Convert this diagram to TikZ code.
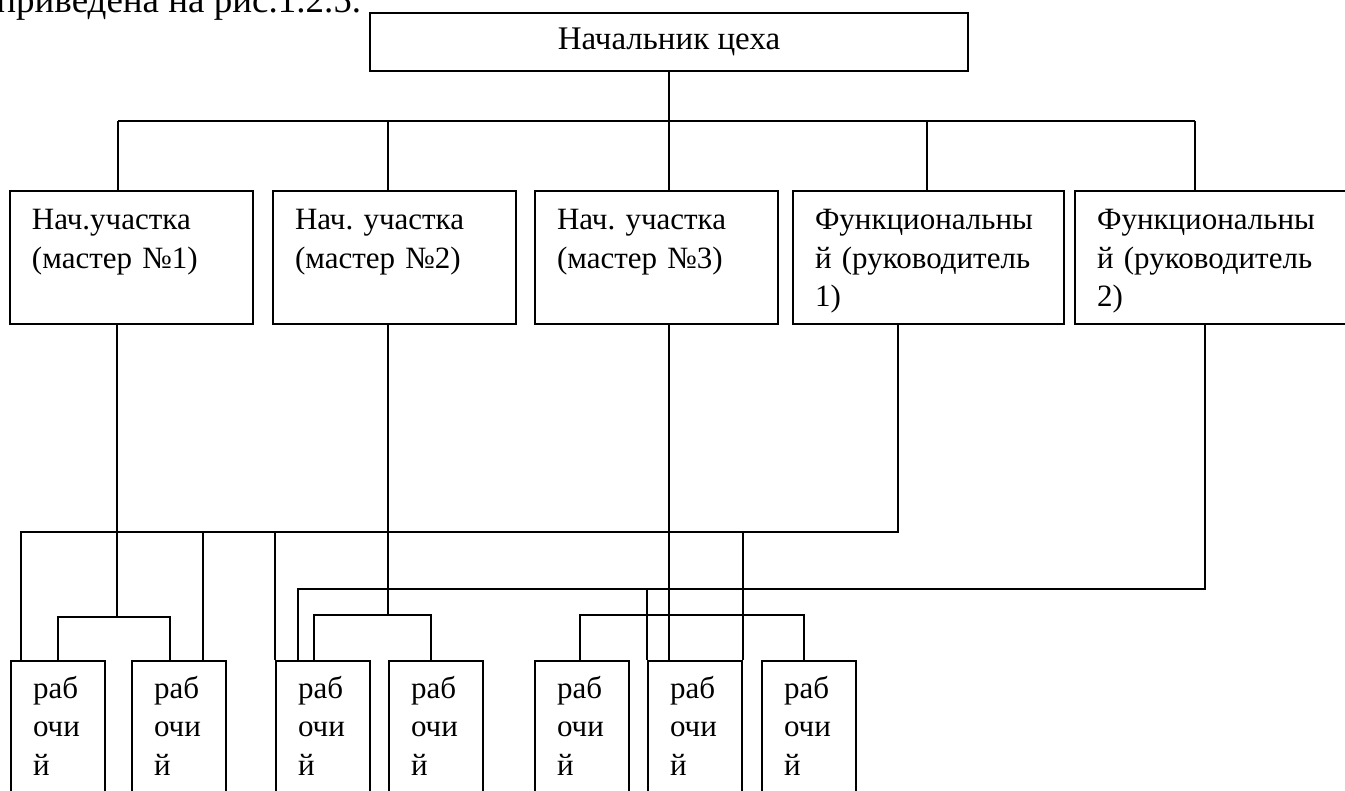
\documentclass[tikz,border=0pt]{standalone}
\usepackage{fontspec}
\setmainfont{Liberation Serif}
\usetikzlibrary{calc}
\frenchspacing
\newcommand{\boxfont}{\fontsize{15.5pt}{19.25pt}\selectfont}

\begin{document}
\begin{tikzpicture}[x=0.5pt, y=-0.5pt,
  unit/.style={draw, line width=1pt, anchor=north west, align=left, text width=#1,
    inner xsep=11pt, inner ysep=6pt, text height=13.5pt, text depth=41pt, font=\boxfont},
  worker/.style={draw, line width=1pt, anchor=north west, align=left, text width=25pt,
    inner xsep=11pt, inner ysep=6pt, text height=12.5pt, text depth=60pt, font=\boxfont},
  link/.style={line width=1pt}]

  \clip (0,0) rectangle (1345,791);

  % Line of the page text above the chart (cut at the top)
  \node[anchor=base west, inner sep=0pt, font=\fontsize{18.5pt}{22pt}\selectfont] (caption) at (-4,13) {приведена на рис.1.2.5.};

  % Boxes
  \node[draw, line width=1pt, anchor=north west, minimum width=299pt, minimum height=29pt, font=\fontsize{16.5pt}{20pt}\selectfont] (chief) at (369,12) {Начальник цеха};
  \node[unit=99.5pt] (m1) at (9,190) {Нач.участка\\(мастер №1)};
  \node[unit=99.5pt] (m2) at (272,190) {Нач. участка\\(мастер №2)};
  \node[unit=99.5pt] (m3) at (534,190) {Нач. участка\\(мастер №3)};
  \node[unit=113.5pt] (f1) at (792,190) {Функциональны\\й (руководитель\\1)};
  \node[unit=113.5pt] (f2) at (1074,190) {Функциональны\\й (руководитель\\2)};

  \foreach \n/\x in {w1/10, w2/131, w3/275, w4/388, w5/534, w6/647, w7/761} {
    \node[worker] (\n) at (\x,660) {раб\\очи\\й};
  }

  % Chief to the five heads
  \coordinate (d1) at (118,121);
  \coordinate (d2) at (388,121);
  \coordinate (d3) at (chief.south |- d1);
  \coordinate (d4) at (927,121);
  \coordinate (d5) at (1195,121);
  \draw[link] (chief.south) -- (d3);
  \draw[link] (d1) -- (d5);
  \foreach \d/\b in {d1/m1, d2/m2, d3/m3, d4/f1, d5/f2} {
    \draw[link] (\d) -- (\d |- \b.north);
  }

  % Masters to their workers
  \coordinate (g1) at (117,617);
  \coordinate (g2) at (388,615);
  \coordinate (g3) at (d3 |- 0,615);
  \draw[link] (g1 |- m1.south) -- (g1);
  \draw[link] (58,0 |- w1.north) -- (58,617) -- (170,617) -- (170,0 |- w2.north);
  \draw[link] (g2 |- m2.south) -- (g2);
  \draw[link] (314,0 |- w3.north) -- (314,615) -- (431,615) -- (431,0 |- w4.north);
  \draw[link] (g3 |- m3.south) -- (g3 |- w6.north);
  \draw[link] (580,0 |- w5.north) -- (580,615) -- (804,615) -- (804,0 |- w7.north);

  % Functional heads to the workers
  \coordinate (h1) at (898,532);
  \coordinate (h2) at (21,532);
  \draw[link] (h1 |- f1.south) -- (h1) -- (h2) -- (h2 |- w1.north);
  \draw[link] (203,532) -- (203,0 |- w2.north);
  \draw[link] (w3.north west |- h1) -- (w3.north west);
  \draw[link] (w6.north east |- h1) -- (w6.north east);

  \coordinate (k1) at (1205,589);
  \coordinate (k2) at (298,589);
  \draw[link] (k1 |- f2.south) -- (k1) -- (k2) -- (k2 |- w3.north);
  \draw[link] (w6.north west |- k1) -- (w6.north west);

\end{tikzpicture}
\end{document}
